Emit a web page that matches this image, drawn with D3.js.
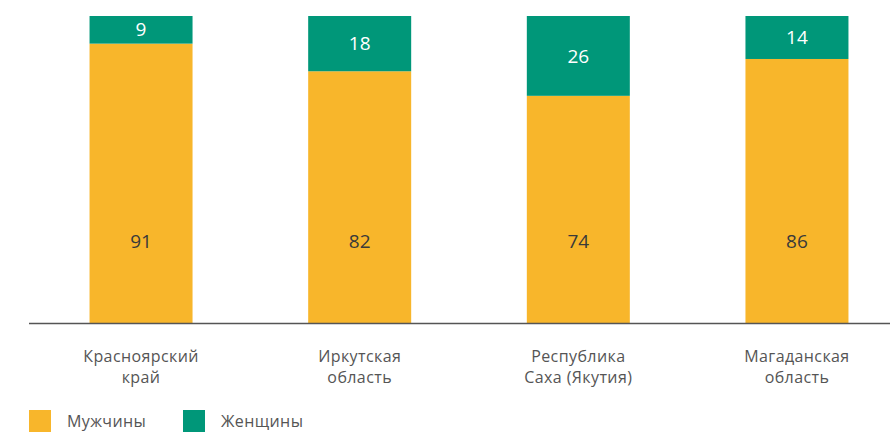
<!DOCTYPE html>
<html>
<head>
    <meta charset="utf-8" />
    <title>Мужчины и женщины</title>
    <script src="https://d3js.org/d3.v7.min.js"></script>
    <style>
        body { margin: 0; background: #fff; }
        text { font-family: "Open Sans", "Noto Sans", sans-serif; }
    </style>
</head>
<body>
    <svg class="chart"></svg>
    <script>
        // data
        var regions = [["Красноярский", "край"], ["Иркутская", "область"], ["Республика", "Саха (Якутия)"], ["Магаданская", "область"]];
        var men = [91, 82, 74, 86];
        var women = [9, 18, 26, 14];
        var seriesNames = ["Мужчины", "Женщины"];
        var colors = ["#F8B62B", "#009779"];

        var svgWidth = 890, svgHeight = 432;
        var svg = d3.select(".chart").attr("width", svgWidth).attr("height", svgHeight);

        var plotTop = 16, base = 323;
        var keys = regions.map(r => r.join(" "));

        var x = d3.scaleBand().domain(keys).range([35, 903]).paddingInner(0.53).paddingOuter(0.25);
        var y = d3.scaleLinear().domain([0, 100]).range([base, plotTop]);

        var rows = keys.map((k, i) => ({key: k, men: men[i], women: women[i]}));
        var stack = d3.stack().keys(["men", "women"])(rows);

        var bw = 103;
        var off = (x.bandwidth() - bw) / 2;

        svg.selectAll(".layer")
            .data(stack).enter().append("g")
                .attr("fill", (d, i) => colors[i])
            .selectAll("rect")
            .data(d => d).enter().append("rect")
                .attr("x", d => x(d.data.key) + off)
                .attr("width", bw)
                .attr("y", d => y(d[1]))
                .attr("height", d => y(d[0]) - y(d[1]));

        // axis line
        svg.append("line")
            .attr("x1", 29).attr("x2", svgWidth)
            .attr("y1", base + 0.5).attr("y2", base + 0.5)
            .attr("stroke", "#555").attr("stroke-width", 1.5);

        // men labels
        svg.selectAll(".menLabel")
            .data(rows).enter().append("text")
                .attr("x", d => x(d.key) + x.bandwidth() / 2)
                .attr("y", y(26.7))
                .attr("dy", "0.35em")
                .attr("text-anchor", "middle")
                .attr("font-size", 19)
                .attr("fill", "#3a3a3a")
                .text(d => d.men);

        // women labels
        svg.selectAll(".womenLabel")
            .data(rows).enter().append("text")
                .attr("x", d => x(d.key) + x.bandwidth() / 2)
                .attr("y", d => y(100 - d.women / 2))
                .attr("dy", "0.35em")
                .attr("text-anchor", "middle")
                .attr("font-size", 19)
                .attr("fill", "#fff")
                .text(d => d.women);

        // category labels
        var cat = svg.selectAll(".cat")
            .data(regions).enter().append("text")
                .attr("text-anchor", "middle")
                .attr("font-size", 16)
                .attr("letter-spacing", 0.4)
                .attr("fill", "#555")
                .attr("transform", (d, i) => "translate(" + (x(keys[i]) + x.bandwidth() / 2) + ",0)");
        cat.selectAll("tspan")
            .data(d => d).enter().append("tspan")
                .attr("x", 0)
                .attr("y", (d, j) => 362 + j * 21)
                .text(d => d);

        // legend
        var leg = svg.selectAll(".legend")
            .data(seriesNames).enter().append("g")
                .attr("transform", (d, i) => "translate(" + (29 + i * 154) + ",410)");
        leg.append("rect").attr("width", 22).attr("height", 22).attr("fill", (d, i) => colors[i]);
        leg.append("text")
            .attr("x", 38).attr("y", 11).attr("dy", "0.35em")
            .attr("font-size", 16).attr("letter-spacing", 0.4).attr("fill", "#555")
            .text(d => d);
    </script>
</body>
</html>
